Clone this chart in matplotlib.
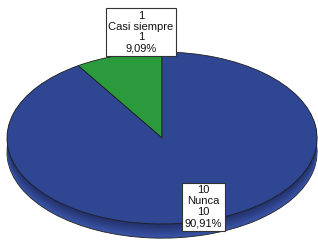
import numpy as np
import matplotlib.pyplot as plt
from matplotlib.colors import to_rgb

plt.rcParams['font.family'] = ['Liberation Sans', 'DejaVu Sans']

# datos
categorias = ['Casi siempre', 'Nunca']
frecuencias = [1, 10]
porcentajes = ['9,09%', '90,91%']

col_top = ['#2b9a3c', '#2f4793']
col_side_dark = ['#1d6a29', '#222f6a']
col_side_light = ['#2f8a40', '#3a55a8']

fig = plt.figure(figsize=(3.18, 2.41), dpi=100)
ax = fig.add_axes([0, 0, 1, 1])

# grosor del "3D"
grosor = 0.165
n = 14
for k, d in enumerate(np.linspace(grosor, 0.005, n)):
    t = k / (n - 1)
    cols = []
    for a, b in zip(col_side_light, col_side_dark):
        ca = np.array(to_rgb(a))
        cb = np.array(to_rgb(b))
        cols.append(ca * (1 - t) + cb * t)
    if k == 0:
        wp = dict(linewidth=0.6, edgecolor='#202020')
    else:
        wp = dict(linewidth=0)
    ax.pie(frecuencias, colors=cols, startangle=90, counterclock=True,
           center=(0, -d), radius=1, wedgeprops=wp)

# cara superior
ax.pie(frecuencias, colors=col_top, startangle=90, counterclock=True,
       center=(0, 0), radius=1,
       wedgeprops=dict(linewidth=0.6, edgecolor='#202020'))

ax.set_aspect('auto')
ax.set_xlim(-1.045, 1.006)
ax.set_ylim(-1.198, 1.605)
ax.axis('off')

bbox = dict(boxstyle='square,pad=0.25', facecolor='white', edgecolor='#333333', linewidth=0.8)
pos = [(-0.135, 1.233), (0.265, -0.80)]
for c, f, p, (x, y) in zip(categorias, frecuencias, porcentajes, pos):
    ax.text(x, y, f'{f}\n{c}\n{f}\n{p}', ha='center', va='center', fontsize=8,
            linespacing=1.12, bbox=bbox, color='#111111')

fig.savefig('out.png', dpi=100)
